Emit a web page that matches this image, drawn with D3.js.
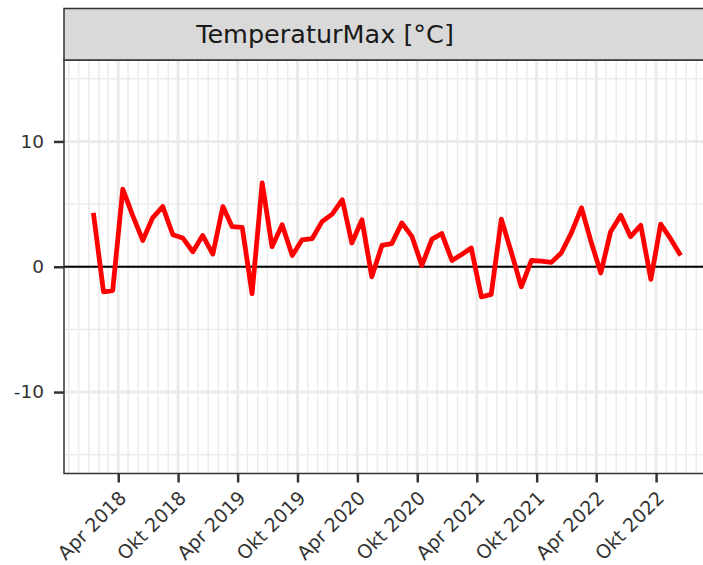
<!DOCTYPE html>
<html>
<head>
<meta charset="utf-8">
<script src="https://cdn.jsdelivr.net/npm/d3@7"></script>
<style>
	body { margin: 0; background: #fff; }
	text { font-family: "DejaVu Sans", sans-serif; }
</style>
</head>
<body>
<script>
// monthly values, Jan 2018 .. Dec 2022
var months = d3.range(60).map(function(i) { return new Date(2018, i, 15); });
var tempMax = [
	4.3, -2.0, -1.9, 6.2, 4.1, 2.1, 3.9, 4.8, 2.55, 2.3, 1.2, 2.5,
	1.0, 4.8, 3.2, 3.15, -2.15, 6.7, 1.6, 3.35, 0.9, 2.15, 2.25, 3.6,
	4.2, 5.35, 1.9, 3.75, -0.8, 1.7, 1.85, 3.5, 2.4, 0.1, 2.2, 2.65,
	0.5, 1.0, 1.5, -2.4, -2.2, 3.8, 1.2, -1.6, 0.5, 0.45, 0.35, 1.1,
	2.7, 4.7, 2.1, -0.5, 2.8, 4.1, 2.4, 3.3, -1.0, 3.4, 2.2, 0.9
];

var xTickDates = ["2018-04-01", "2018-10-01", "2019-04-01", "2019-10-01", "2020-04-01",
	"2020-10-01", "2021-04-01", "2021-10-01", "2022-04-01", "2022-10-01"];
var xTickLabels = ["Apr 2018", "Okt 2018", "Apr 2019", "Okt 2019", "Apr 2020",
	"Okt 2020", "Apr 2021", "Okt 2021", "Apr 2022", "Okt 2022"];
var yTicks = [-10, 0, 10];
var yMinor = [-15, -5, 5, 15];
var stripTitle = "TemperaturMax [°C]";

var width = 703,
	height = 565;

// panel box (right side runs off the picture, like the original)
var pLeft = 64, pRight = 710, pTop = 60, pBottom = 473.5;

var parse = d3.timeParse("%Y-%m-%d");
var tickDates = xTickDates.map(parse);

// ggplot style 5% expansion
var first = months[0], last = months[months.length - 1];
var pad = (last - first) * 0.05;
var x = d3.scaleTime()
	.domain([new Date(+first - pad), new Date(+last + pad)])
	.range([pLeft, pRight]);

var y = d3.scaleLinear()
	.domain([-16.5, 16.5])
	.range([pBottom, pTop]);

var svg = d3.select('body')
	.append('svg')
	.attr('width', width)
	.attr('height', height);

// grid
var grid = svg.append('g');
var monthLines = d3.timeMonth.range(x.domain()[0], x.domain()[1]);

grid.selectAll('.vminor')
	.data(monthLines)
	.enter().append('line')
	.attr('x1', function(d) { return x(d); })
	.attr('x2', function(d) { return x(d); })
	.attr('y1', pTop).attr('y2', pBottom)
	.attr('stroke', '#ebebeb')
	.attr('stroke-width', 1.5);

grid.selectAll('.hminor')
	.data(yMinor)
	.enter().append('line')
	.attr('x1', pLeft).attr('x2', pRight)
	.attr('y1', function(d) { return y(d); })
	.attr('y2', function(d) { return y(d); })
	.attr('stroke', '#ebebeb')
	.attr('stroke-width', 1.5);

grid.selectAll('.vmajor')
	.data(tickDates)
	.enter().append('line')
	.attr('x1', function(d) { return x(d); })
	.attr('x2', function(d) { return x(d); })
	.attr('y1', pTop).attr('y2', pBottom)
	.attr('stroke', '#ebebeb')
	.attr('stroke-width', 3);

grid.selectAll('.hmajor')
	.data(yTicks)
	.enter().append('line')
	.attr('x1', pLeft).attr('x2', pRight)
	.attr('y1', function(d) { return y(d); })
	.attr('y2', function(d) { return y(d); })
	.attr('stroke', '#ebebeb')
	.attr('stroke-width', 3);

// zero line
svg.append('line')
	.attr('x1', pLeft).attr('x2', pRight)
	.attr('y1', y(0)).attr('y2', y(0))
	.attr('stroke', '#000')
	.attr('stroke-width', 2);

// the series
var line = d3.line()
	.x(function(d, i) { return x(months[i]); })
	.y(function(d) { return y(d); });

svg.append('path')
	.datum(tempMax)
	.attr('d', line)
	.attr('fill', 'none')
	.attr('stroke', '#ff0000')
	.attr('stroke-width', 4.8)
	.attr('stroke-linejoin', 'round');

// panel border
svg.append('rect')
	.attr('x', pLeft).attr('y', pTop)
	.attr('width', pRight - pLeft).attr('height', pBottom - pTop)
	.attr('fill', 'none')
	.attr('stroke', '#333')
	.attr('stroke-width', 1.5);

// strip
svg.append('rect')
	.attr('x', pLeft).attr('y', 8.5)
	.attr('width', pRight - pLeft).attr('height', pTop - 8.5)
	.attr('fill', '#d9d9d9')
	.attr('stroke', '#333')
	.attr('stroke-width', 1.5);

svg.append('text')
	.attr('x', 325)
	.attr('y', 42.5)
	.attr('text-anchor', 'middle')
	.attr('fill', '#1a1a1a')
	.style('font-size', '25.5px')
	.text(stripTitle);

// axes
var yAxis = svg.append('g')
	.attr('transform', 'translate(' + pLeft + ',0)')
	.call(d3.axisLeft(y)
		.tickValues(yTicks)
		.tickFormat(function(d) { return String(d); })
		.tickSize(10)
		.tickPadding(10));

var xAxis = svg.append('g')
	.attr('transform', 'translate(0,' + pBottom + ')')
	.call(d3.axisBottom(x)
		.tickValues(tickDates)
		.tickFormat(function(d, i) { return xTickLabels[i]; })
		.tickSize(9));

[yAxis, xAxis].forEach(function(ax) {
	ax.select('.domain').remove();
	ax.selectAll('.tick line').attr('stroke', '#333').attr('stroke-width', 2.5);
	ax.selectAll('.tick text').attr('fill', '#333').style('font-size', '18.5px');
});

xAxis.selectAll('.tick text')
	.style('font-size', '19px')
	.attr('y', 0)
	.attr('dy', '0.35em')
	.attr('text-anchor', 'end')
	.attr('transform', 'translate(4,21) rotate(-45)');
</script>
</body>
</html>
